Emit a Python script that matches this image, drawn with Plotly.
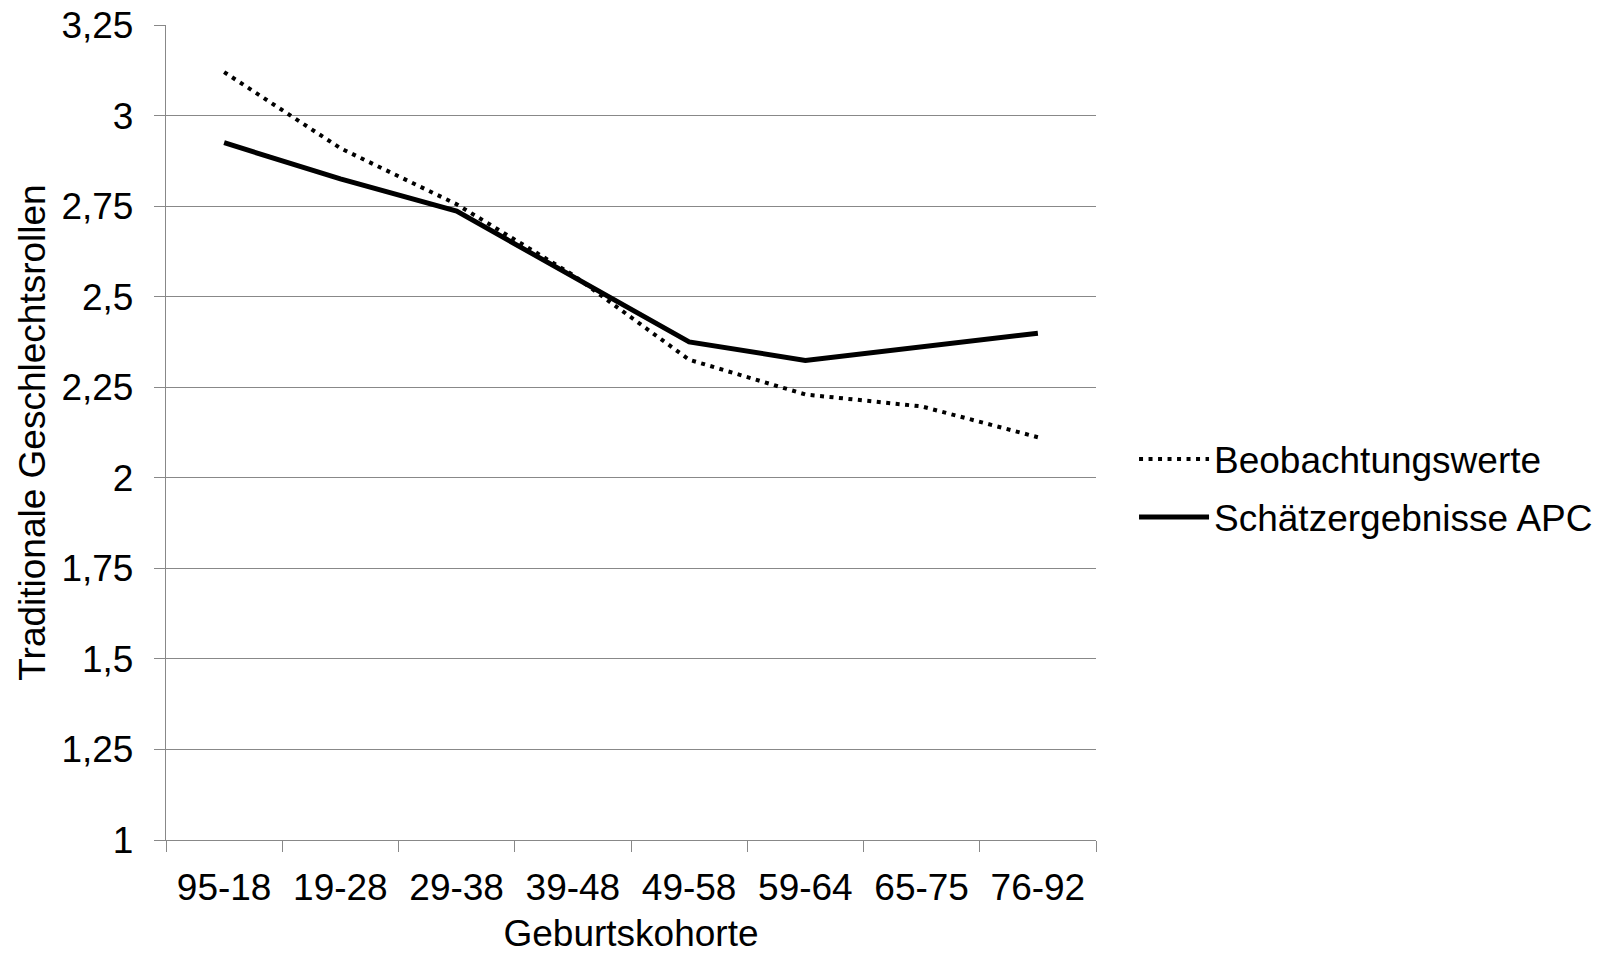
import plotly.graph_objects as go

categories = ["95-18", "19-28", "29-38", "39-48", "49-58", "59-64", "65-75", "76-92"]
beobachtungswerte = [3.12, 2.91, 2.755, 2.56, 2.326, 2.23, 2.197, 2.112]
schaetzergebnisse_apc = [2.925, 2.825, 2.736, 2.556, 2.375, 2.324, 2.363, 2.399]

y_tick_vals = [1, 1.25, 1.5, 1.75, 2, 2.25, 2.5, 2.75, 3, 3.25]
y_tick_text = ["1", "1,25", "1,5", "1,75", "2", "2,25", "2,5", "2,75", "3", "3,25"]

FONT = "Liberation Sans, Arial, sans-serif"
FS = 37
GRID = "#888888"

fig = go.Figure()
fig.add_trace(go.Scatter(
    x=categories, y=beobachtungswerte, mode="lines", name="Beobachtungswerte",
    legendgroup="a",
    line=dict(color="black", width=4, dash="4px,5.5px"),
))
fig.add_trace(go.Scatter(
    x=categories, y=schaetzergebnisse_apc, mode="lines", name="Schätzergebnisse APC",
    legendgroup="b",
    line=dict(color="black", width=5),
))

fig.update_layout(
    width=1610, height=954,
    margin=dict(l=166, r=514, t=25, b=114, autoexpand=False),
    paper_bgcolor="white", plot_bgcolor="white",
    font=dict(family=FONT, size=FS, color="black"),
    showlegend=True,
    legend=dict(
        x=1.0409, xanchor="left", y=0.4315, yanchor="middle",
        font=dict(family=FONT, size=FS, color="black"),
        tracegroupgap=7, bgcolor="rgba(0,0,0,0)", itemwidth=70,
    ),
)

fig.update_xaxes(
    type="category", range=[-0.5, 7.5], automargin=False,
    showline=True, linecolor=GRID, linewidth=1.3,
    ticks="outside", ticklen=11, tickcolor=GRID, tickwidth=1.3,
    tickson="boundaries", showgrid=False, zeroline=False,
    ticklabelstandoff=14,
    tickfont=dict(family=FONT, size=FS, color="black"),
    title=dict(text="Geburtskohorte", font=dict(family=FONT, size=FS, color="black"), standoff=18),
)
fig.update_yaxes(
    range=[1, 3.25], tickvals=y_tick_vals, ticktext=y_tick_text, automargin=False,
    showline=True, linecolor=GRID, linewidth=1.3,
    ticks="outside", ticklen=11, tickcolor=GRID, tickwidth=1.3,
    showgrid=True, gridcolor=GRID, gridwidth=1.3, zeroline=False,
    ticklabelstandoff=13,
    tickfont=dict(family=FONT, size=FS, color="black"),
    title=dict(text="Traditionale Geschlechtsrollen", font=dict(family=FONT, size=FS, color="black"), standoff=4),
)

fig.write_html("out.html")
